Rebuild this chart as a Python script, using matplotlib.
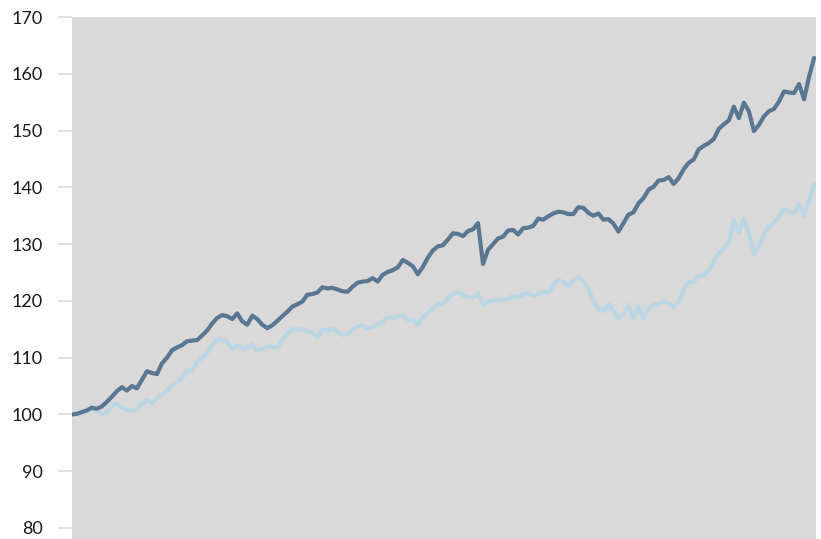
import matplotlib
matplotlib.use("Agg")
import matplotlib.pyplot as plt
import numpy as np

# Index series (start = 100), equally spaced periods
dark_values = [
    100.0, 100.1, 100.4, 100.7, 101.2, 101.0, 101.4, 102.2, 103.1, 104.1,
    104.8, 104.2, 105.0, 104.6, 106.1, 107.6, 107.3, 107.1, 109.0, 110.0,
    111.3, 111.8, 112.2, 112.9, 113.0, 113.1, 113.9, 114.8, 116.0, 117.0,
    117.5, 117.3, 116.8, 117.8, 116.4, 115.8, 117.4, 116.8, 115.8, 115.2,
    115.7, 116.5, 117.3, 118.1, 119.0, 119.4, 119.9, 121.1, 121.2, 121.5,
    122.4, 122.2, 122.3, 122.0, 121.7, 121.6, 122.5, 123.2, 123.4, 123.5,
    124.0, 123.4, 124.6, 125.1, 125.4, 125.9, 127.2, 126.7, 126.1, 124.7,
    126.0, 127.6, 128.9, 129.6, 129.8, 130.8, 131.9, 131.8, 131.4, 132.3,
    132.6, 133.7, 126.5, 129.0, 130.0, 131.0, 131.3, 132.4, 132.5, 131.7,
    132.8, 132.9, 133.2, 134.5, 134.3, 134.9, 135.4, 135.7, 135.6, 135.3,
    135.3, 136.5, 136.4, 135.5, 135.0, 135.4, 134.3, 134.4, 133.6, 132.2,
    133.7, 135.2, 135.6, 137.2, 138.1, 139.6, 140.1, 141.2, 141.3, 141.8,
    140.6, 141.6, 143.2, 144.3, 144.9, 146.7, 147.3, 147.8, 148.5, 150.3,
    151.1, 151.8, 154.2, 152.2, 154.9, 153.4, 149.9, 151.0, 152.5, 153.4,
    153.8, 155.1, 156.9, 156.7, 156.6, 158.2, 155.5, 159.5, 162.8,
]

light_values = [
    100.0, 100.1, 100.4, 100.7, 100.9, 100.6, 100.1, 100.3, 101.4, 101.9,
    101.2, 100.8, 100.6, 100.9, 101.9, 102.6, 102.0, 102.9, 103.4, 104.2,
    105.1, 105.7, 106.5, 107.6, 107.8, 109.1, 110.0, 110.9, 112.2, 113.2,
    113.2, 112.8, 111.6, 112.2, 111.6, 111.8, 112.3, 111.2, 111.5, 111.9,
    111.9, 111.8, 113.0, 114.3, 115.0, 115.0, 114.9, 114.7, 114.3, 113.6,
    115.0, 114.8, 115.1, 114.5, 114.0, 114.2, 114.9, 115.5, 115.6, 115.2,
    115.3, 115.8, 116.3, 117.1, 117.0, 117.3, 117.5, 116.7, 116.7, 115.8,
    117.1, 117.8, 118.7, 119.4, 119.5, 120.4, 121.2, 121.5, 121.0, 120.7,
    120.6, 121.3, 119.3, 119.9, 120.0, 120.2, 120.2, 120.4, 120.9, 120.6,
    121.2, 121.3, 120.8, 121.2, 121.6, 121.4, 122.6, 123.7, 123.3, 122.5,
    123.5, 124.2, 123.5, 122.2, 120.0, 118.6, 118.2, 119.4, 118.3, 116.9,
    117.6, 119.3, 117.0, 119.0, 116.8, 118.7, 119.3, 119.4, 119.9, 119.6,
    118.9, 119.8, 122.0, 123.3, 123.3, 124.4, 124.5, 125.3, 126.9, 128.4,
    129.2, 130.3, 134.2, 132.1, 134.5, 132.0, 128.3, 129.5, 131.7, 133.2,
    133.7, 134.9, 136.2, 135.8, 135.4, 137.0, 135.0, 137.7, 140.5,
]

y_ticks = [80, 90, 100, 110, 120, 130, 140, 150, 160, 170]

W, H = 821, 539
fig = plt.figure(figsize=(W / 100, H / 100), dpi=100)
fig.patch.set_facecolor("white")

left, right, top, bottom = 71.5, 816.0, 17.0, 539.0
ax = fig.add_axes([left / W, 1 - bottom / H, (right - left) / W, (bottom - top) / H])
ax.set_facecolor("#d9d9d9")

x = np.arange(len(dark_values))
ax.plot(x, light_values, color="#bcd6e4", lw=3.0, solid_joinstyle="round",
        solid_capstyle="round", zorder=2)
ax.plot(x, dark_values, color="#5b7691", lw=3.0, solid_joinstyle="round",
        solid_capstyle="round", zorder=3)

n = len(dark_values) - 1
px_per = (814.1 - 71.7) / n
ax.set_xlim(-(71.7 - left) / px_per, n + (right - 814.1) / px_per)
px_per_unit = (528.0 - 17.0) / 90.0
ax.set_ylim(80 - (bottom - 528.0) / px_per_unit, 170)

ax.set_xticks([])
ax.set_yticks(y_ticks)
ax.set_yticklabels([str(t) for t in y_ticks], fontsize=13, family="Lato", color="#1a1a1a")
ax.tick_params(axis="y", length=10, width=1.1, color="#d9d9d9", pad=10.5)
for s in ax.spines.values():
    s.set_visible(False)

fig.savefig("out.png", dpi=100, facecolor="white")
